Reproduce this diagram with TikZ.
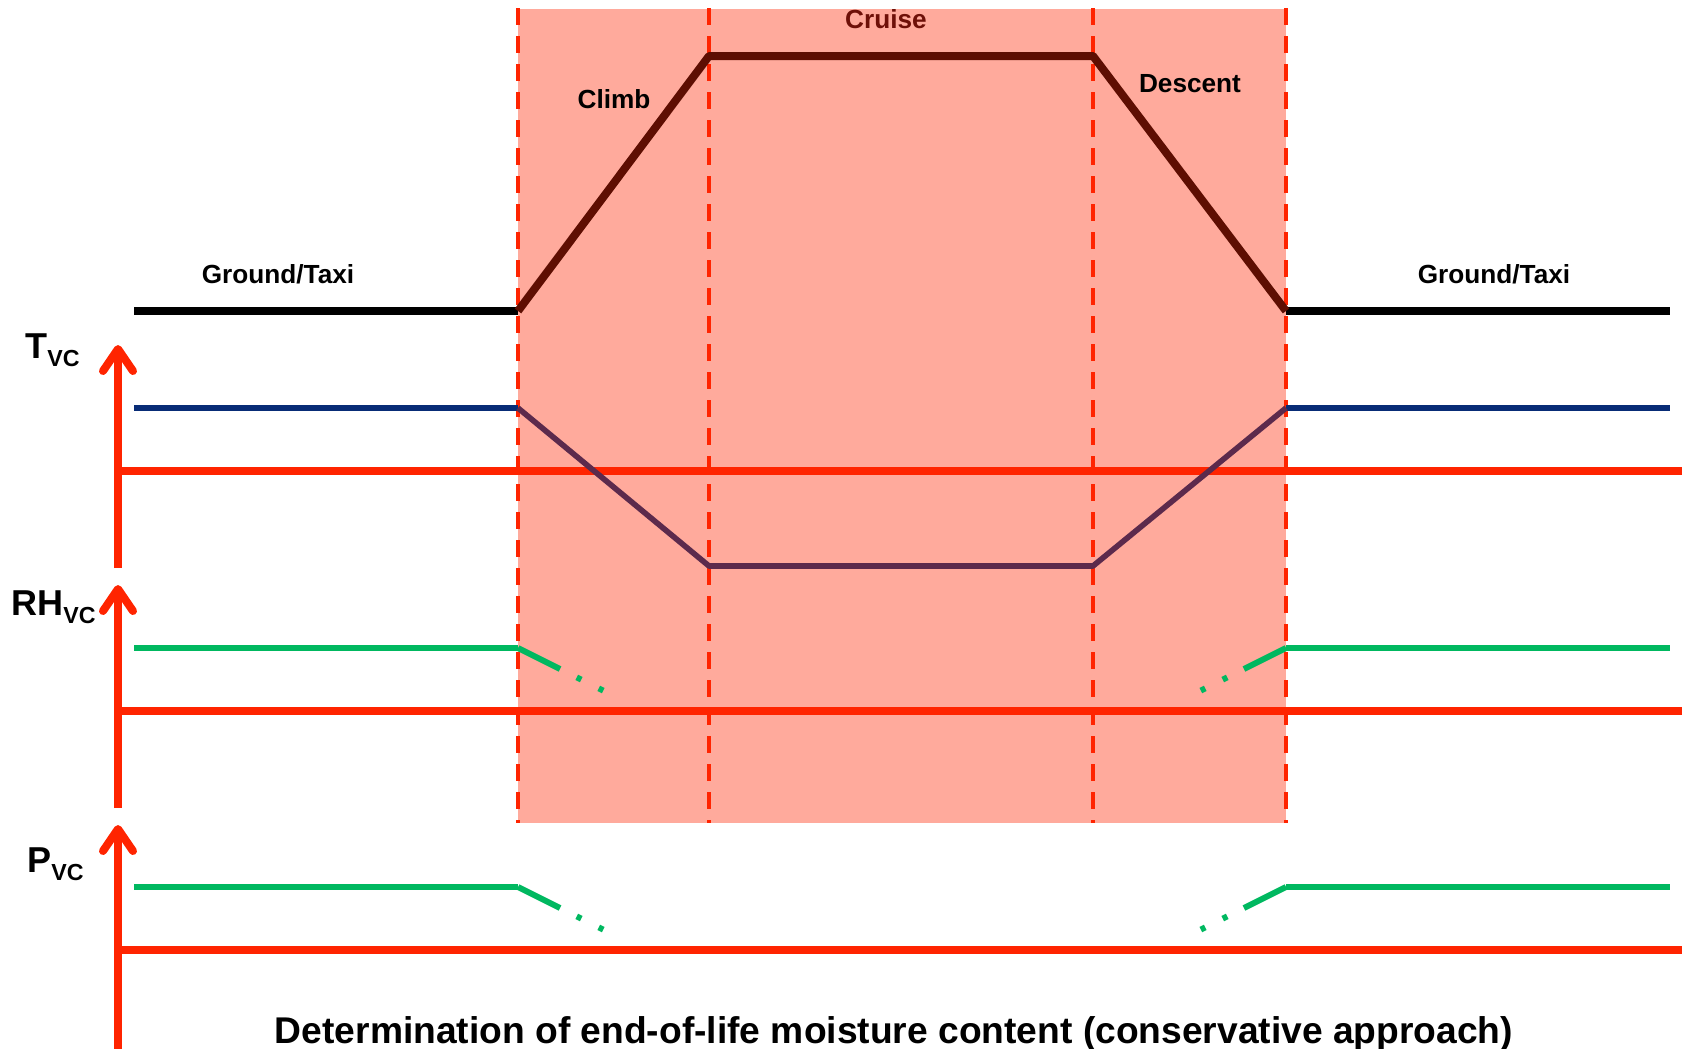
\documentclass[tikz,border=0pt]{standalone}
\usepackage{fontspec}
\setmainfont{Liberation Sans}
\usetikzlibrary{arrows.meta}
\definecolor{axisred}{RGB}{255,36,0}
\definecolor{phasefill}{RGB}{255,170,156}
\definecolor{flightline}{RGB}{94,14,2}
\definecolor{cruisetxt}{RGB}{110,16,8}
\definecolor{tempblue}{RGB}{8,44,118}
\definecolor{cabinpurple}{RGB}{92,42,76}
\definecolor{moistgreen}{RGB}{0,184,96}
\newcommand{\vclabel}[1]{{\fontsize{18}{20}\selectfont #1}\raisebox{-4.3pt}{\fontsize{11.6}{12}\selectfont VC}}
\tikzset{
  axis/.style={axisred, line width=4pt, -{Straight Barb[length=11pt,width=15pt,round]}},
  level/.style={axisred, line width=4pt},
  phase/.style={axisred, line width=2pt, dash pattern=on 8.5pt off 5.5pt},
  ground/.style={black, line width=3.6pt},
  flight/.style={flightline, line width=4pt, line join=round},
  tprofile/.style={line width=2.8pt},
  moist/.style={moistgreen, line width=3pt},
  moistfade/.style={moistgreen, line width=3pt, dash pattern=on 23.5pt off 9.35pt on 2.5pt off 9.8pt on 2.5pt off 20pt},
  lbl/.style={font=\bfseries\fontsize{13.1}{15}\selectfont, anchor=base, inner sep=0pt},
  axlbl/.style={font=\bfseries, anchor=base west, inner sep=0pt},
  title/.style={font=\bfseries\fontsize{18.6}{21}\selectfont, anchor=base, inner sep=0pt}
}
\begin{document}
\begin{tikzpicture}[x=0.5pt,y=-0.5pt]
\useasboundingbox (0,0) rectangle (1682,1049);
% flight phases
\fill[phasefill] (518,9) rectangle (1286,823);
\foreach \x in {518,709,1093,1286}
  \draw[phase] (\x,8) -- (\x,823);
% altitude
\draw[ground] (134,311) -- (518,311);
\draw[ground] (1286,311) -- (1670,311);
\draw[flight] (518,311) -- (709,56) -- (1093,56) -- (1286,311);
\node[lbl] (taxiL) at (278,283) {Ground/Taxi};
\node[lbl] (taxiR) at (1494,283) {Ground/Taxi};
\node[lbl] (climb) at (614,108) {Climb};
\node[lbl, text=cruisetxt] (cruise) at (886,28) {Cruise};
\node[lbl] (descent) at (1190,92) {Descent};
% T_VC
\draw[axis] (118,568) -- (118,345);
\node[axlbl] (tvc) at (25,358) {\vclabel{T}};
\draw[level] (118,471) -- (1682,471);
\draw[tempblue, tprofile] (134,408) -- (518,408);
\draw[tempblue, tprofile] (1286,408) -- (1670,408);
\draw[cabinpurple, tprofile, line join=round] (518,408) -- (709,566) -- (1093,566) -- (1286,408);
% RH_VC
\draw[axis] (118,808) -- (118,585);
\node[axlbl] (rhvc) at (11,615) {\vclabel{RH}};
\draw[level] (118,711) -- (1682,711);
\draw[moist] (134,648) -- (518,648);
\draw[moist] (1286,648) -- (1670,648);
\draw[moistfade] (518,648) -- (603.2,690.6);
\draw[moistfade] (1286,648) -- (1200.8,690.6);
% P_VC
\draw[axis] (118,1049) -- (118,825);
\node[axlbl] (pvc) at (27,872) {\vclabel{P}};
\draw[level] (118,950) -- (1682,950);
\draw[moist] (134,887) -- (518,887);
\draw[moist] (1286,887) -- (1670,887);
\draw[moistfade] (518,887) -- (603.2,929.6);
\draw[moistfade] (1286,887) -- (1200.8,929.6);
\node[title] (caption) at (894,1043) {Determination of end-of-life moisture content (conservative approach)};
\end{tikzpicture}
\end{document}
